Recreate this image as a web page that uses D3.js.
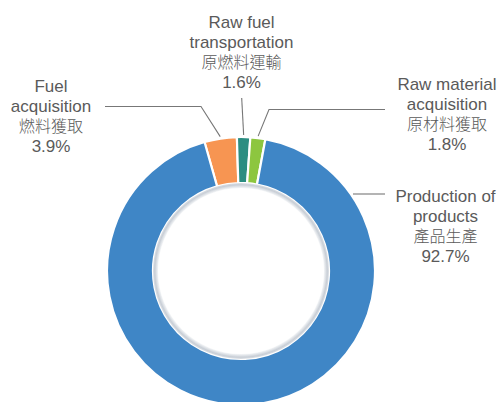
<!DOCTYPE html>
<html>
<head>
<meta charset="utf-8">
<script src="https://cdn.jsdelivr.net/npm/d3@7"></script>
<style>
html,body{margin:0;padding:0;background:#fff;}
svg{display:block;}
text{font-family:"Liberation Sans",sans-serif;font-size:17px;fill:#5a5a5a;}
tspan.zh{font-family:"Noto Sans CJK TC","Noto Sans CJK SC",sans-serif;font-weight:300;font-size:16px;}
</style>
</head>
<body>
<svg id="chart" width="500" height="402"></svg>
<script>
const categories = ["Fuel acquisition", "Raw fuel transportation", "Raw material acquisition", "Production of products"];
const labelsZh = ["燃料獲取", "原燃料運輸", "原材料獲取", "產品生產"];
const values = [3.9, 1.6, 1.8, 92.7];
const colors = ["#f79552", "#2b8d81", "#8dc63f", "#3f86c6"];
const labelLines = [["Fuel", "acquisition"], ["Raw fuel", "transportation"], ["Raw material", "acquisition"], ["Production of", "products"]];

const svg = d3.select("#chart");
const cx = 241, cy = 271, rOuter = 134, rInner = 88;
const g = svg.append("g").attr("transform", `translate(${cx},${cy})`);

const startA = -15.8 * Math.PI / 180;
const pie = d3.pie().sort(null).value(d => d).startAngle(startA).endAngle(startA + 2 * Math.PI);
const arcs = pie(values);
const arc = d3.arc().innerRadius(rInner).outerRadius(rOuter);

g.selectAll("path.slice").data(arcs).join("path")
  .attr("class", "slice")
  .attr("d", arc)
  .attr("fill", (d, i) => colors[i])
  .attr("stroke", "#fff")
  .attr("stroke-width", 2.2)
  .attr("stroke-linejoin", "miter");

// inner shaded ring
const defs = svg.append("defs");
const rg = defs.append("radialGradient").attr("id", "ringGrad")
  .attr("gradientUnits", "userSpaceOnUse").attr("cx", 0).attr("cy", 0).attr("r", rInner);
rg.append("stop").attr("offset", "0.945").attr("stop-color", "#f2f4f6");
rg.append("stop").attr("offset", "0.98").attr("stop-color", "#c8ced6");
rg.append("stop").attr("offset", "1").attr("stop-color", "#dde1e6");
g.append("path")
  .attr("d", d3.arc().innerRadius(rInner - 5).outerRadius(rInner)({startAngle: 0, endAngle: 2 * Math.PI}))
  .attr("fill", "url(#ringGrad)");

// leader lines (polylines from slice edge to label)
const leader = [
  {pts: [[105, 106.5], [201, 106.5]], slice: 0},
  {pts: [[241.7, 98]], slice: 1},
  {pts: [[385, 109.5], [269, 109.5]], slice: 2},
  {pts: [[385, 194], [353, 194]], slice: 3}
];
leader.forEach(l => {
  const d = arcs[l.slice];
  const a = (d.startAngle + d.endAngle) / 2;
  const end = [cx + (rOuter + 2) * Math.sin(a), cy - (rOuter + 2) * Math.cos(a)];
  const pts = l.slice === 3 ? l.pts : l.pts.concat([end]);
  svg.append("polyline")
    .attr("points", pts.map(p => p.join(",")).join(" "))
    .attr("fill", "none")
    .attr("stroke", "#777")
    .attr("stroke-width", 1.1);
});

// labels
const labelPos = [[51, 91.5], [241.5, 27.5], [447, 89.5], [445.5, 201.5]];
const lh = 20;
labelPos.forEach((p, i) => {
  const t = svg.append("text").attr("text-anchor", "middle").attr("x", p[0]).attr("y", p[1]);
  const lines = labelLines[i].concat([labelsZh[i], values[i].toFixed(1) + "%"]);
  lines.forEach((s, k) => {
    t.append("tspan").attr("x", p[0]).attr("y", p[1] + k * lh)
      .attr("class", k === 2 ? "zh" : null).text(s);
  });
});
</script>
</body>
</html>
